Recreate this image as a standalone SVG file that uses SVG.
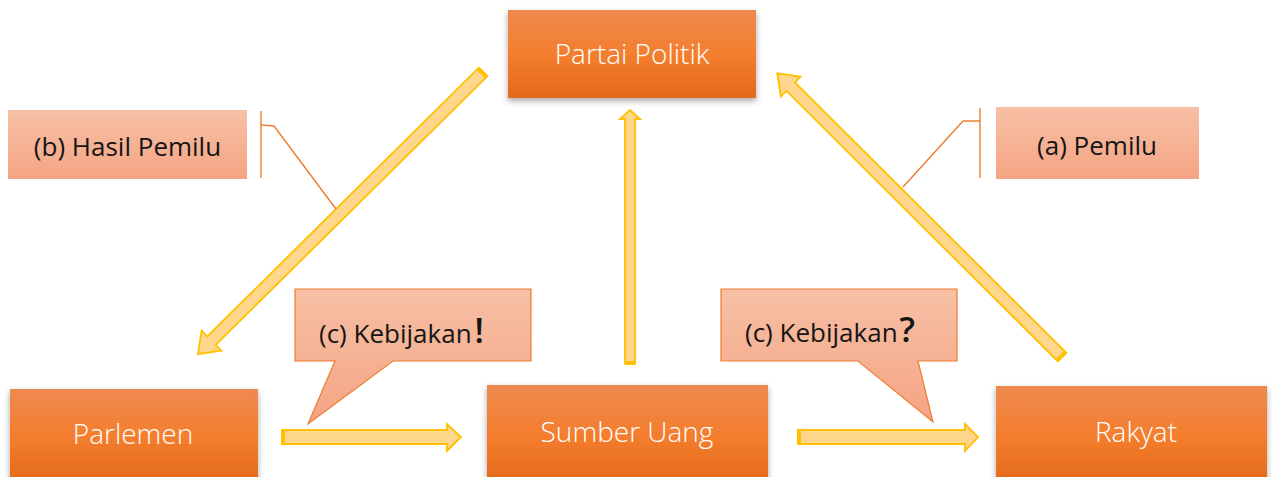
<svg xmlns="http://www.w3.org/2000/svg" width="1276" height="477" viewBox="0 0 1276 477">
  <defs>
    <linearGradient id="gOrange" x1="0" y1="0" x2="0" y2="1">
      <stop offset="0" stop-color="#EE8A50"/>
      <stop offset="0.5" stop-color="#F47E2E"/>
      <stop offset="1" stop-color="#E2691A"/>
    </linearGradient>
    <linearGradient id="gSalmon" x1="0" y1="0" x2="0" y2="1">
      <stop offset="0" stop-color="#F7C0A5"/>
      <stop offset="1" stop-color="#F4A483"/>
    </linearGradient>
    <filter id="shadow" x="-10%" y="-10%" width="120%" height="130%">
      <feDropShadow dx="0" dy="3" stdDeviation="3" flood-color="#000" flood-opacity="0.35"/>
    </filter>
    <style>
      .box { fill: url(#gOrange); filter: url(#shadow); }
      .label { fill: url(#gSalmon); }
      .callout { fill: url(#gSalmon); stroke: #ED7D31; stroke-width: 1.2; stroke-linejoin: miter; }
      .arrow { fill: #FFD78C; stroke: #FFC000; stroke-width: 1.8; stroke-linejoin: miter; }
      .tail { stroke: #FFC000; stroke-width: 4; }
      .lead { fill: none; stroke: #ED7D31; stroke-width: 1.4; }
      .wt { font-family: "Open Sans", "Liberation Sans", sans-serif; font-weight: 300; fill: #FFFFFF; font-size: 28px; text-anchor: middle; }
      .bt { font-family: "Open Sans", "Liberation Sans", sans-serif; fill: #151515; font-size: 26px; }
      .mark { font-size: 34px; font-weight: 600; }
    </style>
  </defs>
  <rect width="1276" height="477" fill="#FFFFFF"/>

  <!-- connectors -->
  <g id="connectors">
    <!-- Partai Politik -> Parlemen (b) -->
    <g transform="translate(483,72) rotate(135.3)">
      <path class="arrow" d="M0,-6 H382 V-14 L401,0 L382,14 V6 H0 Z"/>
      <line class="tail" x1="1" y1="-6" x2="1" y2="6"/>
    </g>
    <!-- Rakyat -> Partai Politik (a) -->
    <g transform="translate(1062,357) rotate(-135.1)">
      <path class="arrow" d="M0,-6 H383 V-14 L402,0 L383,14 V6 H0 Z"/>
      <line class="tail" x1="1" y1="-6" x2="1" y2="6"/>
    </g>
    <!-- Sumber Uang -> Partai Politik -->
    <path class="arrow" d="M625,364 V119 H620 L630,110 L640,119 H635 V364 Z"/>
    <line class="tail" x1="625" y1="363" x2="635" y2="363"/>
    <!-- Parlemen -> Sumber Uang -->
    <path class="arrow" d="M282,430 H447 V424 L461,437 L447,451 V444 H282 Z"/>
    <line class="tail" x1="283" y1="430" x2="283" y2="444"/>
    <!-- Sumber Uang -> Rakyat -->
    <path class="arrow" d="M798,430 H965 V424 L978,437 L965,451 V444 H798 Z"/>
    <line class="tail" x1="799" y1="430" x2="799" y2="444"/>
    <!-- label leaders -->
    <polyline class="lead" points="261,111 261,178"/>
    <polyline class="lead" points="261,125 274,126 336,209"/>
    <polyline class="lead" points="980,108 980,178"/>
    <polyline class="lead" points="980,121 963,121 903,187"/>
  </g>

  <!-- nodes -->
  <g id="partai-politik">
    <rect class="box" x="508" y="10" width="248" height="88"/>
    <text class="wt" x="632" y="64">Partai Politik</text>
  </g>
  <g id="parlemen">
    <rect class="box" x="10" y="389" width="248" height="95"/>
    <text class="wt" x="133" y="444">Parlemen</text>
  </g>
  <g id="sumber-uang">
    <rect class="box" x="487" y="385" width="281" height="99"/>
    <text class="wt" x="627" y="442">Sumber Uang</text>
  </g>
  <g id="rakyat">
    <rect class="box" x="996" y="386" width="271" height="98"/>
    <text class="wt" x="1136" y="442">Rakyat</text>
  </g>
  <g id="hasil-pemilu">
    <rect class="label" x="8" y="110" width="239" height="69"/>
    <text class="bt" x="127.5" y="156" text-anchor="middle">(b) Hasil Pemilu</text>
  </g>
  <g id="pemilu">
    <rect class="label" x="996" y="107" width="203" height="72"/>
    <text class="bt" x="1097" y="155" text-anchor="middle">(a) Pemilu</text>
  </g>
  <g id="kebijakan-seru">
    <path class="callout" d="M295,289 H531 V361 H393 L308,424 L335,361 H295 Z"/>
    <text class="bt" x="319" y="343" font-size="27">(c) Kebijakan<tspan class="mark" dx="3">!</tspan></text>
  </g>
  <g id="kebijakan-tanya">
    <path class="callout" d="M721,289 H957 V361 H918 L933,422 L858,361 H721 Z"/>
    <text class="bt" x="745" y="342" font-size="27">(c) Kebijakan<tspan class="mark" dx="2">?</tspan></text>
  </g>
</svg>
